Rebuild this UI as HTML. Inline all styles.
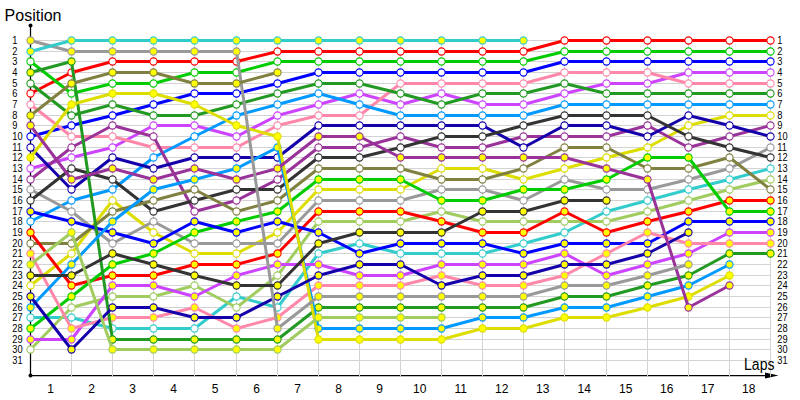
<!DOCTYPE html>
<html><head><meta charset="utf-8"><title>Lap chart</title>
<style>html,body{margin:0;padding:0;background:#fff;width:800px;height:400px;overflow:hidden}svg{display:block}</style>
</head><body>
<svg width="800" height="400" viewBox="0 0 800 400">
<path d="M30.5,25.5V375.5H770" stroke="#000" stroke-width="1.25" fill="none"/>
<circle cx="30.5" cy="25.5" r="2" fill="#000"/>
<circle cx="30.5" cy="375.5" r="2" fill="#000"/>
<path d="M765,372.5L778.5,375.5L765,378.5Z" fill="#000"/>
<path d="M31.5,40.5H770.5M31.5,51.5H770.5M31.5,61.5H770.5M31.5,72.5H770.5M31.5,83.5H770.5M31.5,93.5H770.5M31.5,104.5H770.5M31.5,115.5H770.5M31.5,125.5H770.5M31.5,136.5H770.5M31.5,147.5H770.5M31.5,157.5H770.5M31.5,168.5H770.5M31.5,179.5H770.5M31.5,189.5H770.5M31.5,200.5H770.5M31.5,211.5H770.5M31.5,221.5H770.5M31.5,232.5H770.5M31.5,243.5H770.5M31.5,253.5H770.5M31.5,264.5H770.5M31.5,275.5H770.5M31.5,285.5H770.5M31.5,296.5H770.5M31.5,307.5H770.5M31.5,317.5H770.5M31.5,328.5H770.5M31.5,339.5H770.5M31.5,349.5H770.5M31.5,360.5H770.5M71.5,40.5V376.5M112.5,40.5V376.5M153.5,40.5V376.5M194.5,40.5V376.5M236.5,40.5V376.5M277.5,40.5V376.5M318.5,40.5V376.5M359.5,40.5V376.5M400.5,40.5V376.5M441.5,40.5V376.5M482.5,40.5V376.5M523.5,40.5V376.5M564.5,40.5V376.5M606.5,40.5V376.5M647.5,40.5V376.5M688.5,40.5V376.5M729.5,40.5V376.5M770.5,40.5V376.5" stroke="#d3d3d3" stroke-width="1" fill="none"/>
<polyline points="30.5,93.5 71.5,72.5 112.5,61.5 153.5,61.5 194.5,61.5 236.5,61.5 277.5,51.5 318.5,51.5 359.5,51.5 400.5,51.5 441.5,51.5 482.5,51.5 523.5,51.5 564.5,40.5 606.5,40.5 647.5,40.5 688.5,40.5 729.5,40.5 770.5,40.5" stroke="#ff0000" stroke-width="3" fill="none" stroke-linejoin="round"/>
<circle cx="30.5" cy="93.5" r="3.6" fill="#ffffff" stroke="#ff0000" stroke-width="1.1"/>
<circle cx="71.5" cy="72.5" r="3.6" fill="#ffffff" stroke="#ff0000" stroke-width="1.1"/>
<circle cx="112.5" cy="61.5" r="3.6" fill="#ffffff" stroke="#ff0000" stroke-width="1.1"/>
<circle cx="153.5" cy="61.5" r="3.6" fill="#ffffff" stroke="#ff0000" stroke-width="1.1"/>
<circle cx="194.5" cy="61.5" r="3.6" fill="#ffffff" stroke="#ff0000" stroke-width="1.1"/>
<circle cx="236.5" cy="61.5" r="3.6" fill="#ffffff" stroke="#ff0000" stroke-width="1.1"/>
<circle cx="277.5" cy="51.5" r="3.6" fill="#ffffff" stroke="#ff0000" stroke-width="1.1"/>
<circle cx="318.5" cy="51.5" r="3.6" fill="#ffffff" stroke="#ff0000" stroke-width="1.1"/>
<circle cx="359.5" cy="51.5" r="3.6" fill="#ffffff" stroke="#ff0000" stroke-width="1.1"/>
<circle cx="400.5" cy="51.5" r="3.6" fill="#ffffff" stroke="#ff0000" stroke-width="1.1"/>
<circle cx="441.5" cy="51.5" r="3.6" fill="#ffffff" stroke="#ff0000" stroke-width="1.1"/>
<circle cx="482.5" cy="51.5" r="3.6" fill="#ffffff" stroke="#ff0000" stroke-width="1.1"/>
<circle cx="523.5" cy="51.5" r="3.6" fill="#ffffff" stroke="#ff0000" stroke-width="1.1"/>
<circle cx="564.5" cy="40.5" r="3.6" fill="#ffffff" stroke="#ff0000" stroke-width="1.1"/>
<circle cx="606.5" cy="40.5" r="3.6" fill="#ffffff" stroke="#ff0000" stroke-width="1.1"/>
<circle cx="647.5" cy="40.5" r="3.6" fill="#ffffff" stroke="#ff0000" stroke-width="1.1"/>
<circle cx="688.5" cy="40.5" r="3.6" fill="#ffffff" stroke="#ff0000" stroke-width="1.1"/>
<circle cx="729.5" cy="40.5" r="3.6" fill="#ffffff" stroke="#ff0000" stroke-width="1.1"/>
<circle cx="770.5" cy="40.5" r="3.6" fill="#ffffff" stroke="#ff0000" stroke-width="1.1"/>
<polyline points="30.5,61.5 71.5,93.5 112.5,83.5 153.5,83.5 194.5,72.5 236.5,72.5 277.5,61.5 318.5,61.5 359.5,61.5 400.5,61.5 441.5,61.5 482.5,61.5 523.5,61.5 564.5,51.5 606.5,51.5 647.5,51.5 688.5,51.5 729.5,51.5 770.5,51.5" stroke="#00cc00" stroke-width="3" fill="none" stroke-linejoin="round"/>
<circle cx="30.5" cy="61.5" r="3.6" fill="#ffffff" stroke="#00cc00" stroke-width="1.1"/>
<circle cx="71.5" cy="93.5" r="3.6" fill="#ffffff" stroke="#00cc00" stroke-width="1.1"/>
<circle cx="112.5" cy="83.5" r="3.6" fill="#ffffff" stroke="#00cc00" stroke-width="1.1"/>
<circle cx="153.5" cy="83.5" r="3.6" fill="#ffffff" stroke="#00cc00" stroke-width="1.1"/>
<circle cx="194.5" cy="72.5" r="3.6" fill="#ffffff" stroke="#00cc00" stroke-width="1.1"/>
<circle cx="236.5" cy="72.5" r="3.6" fill="#ffffff" stroke="#00cc00" stroke-width="1.1"/>
<circle cx="277.5" cy="61.5" r="3.6" fill="#ffffff" stroke="#00cc00" stroke-width="1.1"/>
<circle cx="318.5" cy="61.5" r="3.6" fill="#ffffff" stroke="#00cc00" stroke-width="1.1"/>
<circle cx="359.5" cy="61.5" r="3.6" fill="#ffffff" stroke="#00cc00" stroke-width="1.1"/>
<circle cx="400.5" cy="61.5" r="3.6" fill="#ffffff" stroke="#00cc00" stroke-width="1.1"/>
<circle cx="441.5" cy="61.5" r="3.6" fill="#ffffff" stroke="#00cc00" stroke-width="1.1"/>
<circle cx="482.5" cy="61.5" r="3.6" fill="#ffffff" stroke="#00cc00" stroke-width="1.1"/>
<circle cx="523.5" cy="61.5" r="3.6" fill="#ffffff" stroke="#00cc00" stroke-width="1.1"/>
<circle cx="564.5" cy="51.5" r="3.6" fill="#ffffff" stroke="#00cc00" stroke-width="1.1"/>
<circle cx="606.5" cy="51.5" r="3.6" fill="#ffffff" stroke="#00cc00" stroke-width="1.1"/>
<circle cx="647.5" cy="51.5" r="3.6" fill="#ffffff" stroke="#00cc00" stroke-width="1.1"/>
<circle cx="688.5" cy="51.5" r="3.6" fill="#ffffff" stroke="#00cc00" stroke-width="1.1"/>
<circle cx="729.5" cy="51.5" r="3.6" fill="#ffffff" stroke="#00cc00" stroke-width="1.1"/>
<circle cx="770.5" cy="51.5" r="3.6" fill="#ffffff" stroke="#00cc00" stroke-width="1.1"/>
<polyline points="30.5,136.5 71.5,125.5 112.5,115.5 153.5,104.5 194.5,93.5 236.5,93.5 277.5,83.5 318.5,72.5 359.5,72.5 400.5,72.5 441.5,72.5 482.5,72.5 523.5,72.5 564.5,61.5 606.5,61.5 647.5,61.5 688.5,61.5 729.5,61.5 770.5,61.5" stroke="#0000ff" stroke-width="3" fill="none" stroke-linejoin="round"/>
<circle cx="30.5" cy="136.5" r="3.6" fill="#ffffff" stroke="#0000ff" stroke-width="1.1"/>
<circle cx="71.5" cy="125.5" r="3.6" fill="#ffffff" stroke="#0000ff" stroke-width="1.1"/>
<circle cx="112.5" cy="115.5" r="3.6" fill="#ffffff" stroke="#0000ff" stroke-width="1.1"/>
<circle cx="153.5" cy="104.5" r="3.6" fill="#ffffff" stroke="#0000ff" stroke-width="1.1"/>
<circle cx="194.5" cy="93.5" r="3.6" fill="#ffffff" stroke="#0000ff" stroke-width="1.1"/>
<circle cx="236.5" cy="93.5" r="3.6" fill="#ffffff" stroke="#0000ff" stroke-width="1.1"/>
<circle cx="277.5" cy="83.5" r="3.6" fill="#ffffff" stroke="#0000ff" stroke-width="1.1"/>
<circle cx="318.5" cy="72.5" r="3.6" fill="#ffffff" stroke="#0000ff" stroke-width="1.1"/>
<circle cx="359.5" cy="72.5" r="3.6" fill="#ffffff" stroke="#0000ff" stroke-width="1.1"/>
<circle cx="400.5" cy="72.5" r="3.6" fill="#ffffff" stroke="#0000ff" stroke-width="1.1"/>
<circle cx="441.5" cy="72.5" r="3.6" fill="#ffffff" stroke="#0000ff" stroke-width="1.1"/>
<circle cx="482.5" cy="72.5" r="3.6" fill="#ffffff" stroke="#0000ff" stroke-width="1.1"/>
<circle cx="523.5" cy="72.5" r="3.6" fill="#ffffff" stroke="#0000ff" stroke-width="1.1"/>
<circle cx="564.5" cy="61.5" r="3.6" fill="#ffffff" stroke="#0000ff" stroke-width="1.1"/>
<circle cx="606.5" cy="61.5" r="3.6" fill="#ffffff" stroke="#0000ff" stroke-width="1.1"/>
<circle cx="647.5" cy="61.5" r="3.6" fill="#ffffff" stroke="#0000ff" stroke-width="1.1"/>
<circle cx="688.5" cy="61.5" r="3.6" fill="#ffffff" stroke="#0000ff" stroke-width="1.1"/>
<circle cx="729.5" cy="61.5" r="3.6" fill="#ffffff" stroke="#0000ff" stroke-width="1.1"/>
<circle cx="770.5" cy="61.5" r="3.6" fill="#ffffff" stroke="#0000ff" stroke-width="1.1"/>
<polyline points="30.5,168.5 71.5,157.5 112.5,147.5 153.5,125.5 194.5,125.5 236.5,136.5 277.5,115.5 318.5,104.5 359.5,93.5 400.5,104.5 441.5,93.5 482.5,104.5 523.5,104.5 564.5,93.5 606.5,83.5 647.5,83.5 688.5,72.5 729.5,72.5 770.5,72.5" stroke="#cc44ff" stroke-width="3" fill="none" stroke-linejoin="round"/>
<circle cx="30.5" cy="168.5" r="3.6" fill="#ffffff" stroke="#cc44ff" stroke-width="1.1"/>
<circle cx="71.5" cy="157.5" r="3.6" fill="#ffffff" stroke="#cc44ff" stroke-width="1.1"/>
<circle cx="112.5" cy="147.5" r="3.6" fill="#ffffff" stroke="#cc44ff" stroke-width="1.1"/>
<circle cx="153.5" cy="125.5" r="3.6" fill="#ffffff" stroke="#cc44ff" stroke-width="1.1"/>
<circle cx="194.5" cy="125.5" r="3.6" fill="#ffffff" stroke="#cc44ff" stroke-width="1.1"/>
<circle cx="236.5" cy="136.5" r="3.6" fill="#ffffff" stroke="#cc44ff" stroke-width="1.1"/>
<circle cx="277.5" cy="115.5" r="3.6" fill="#ffffff" stroke="#cc44ff" stroke-width="1.1"/>
<circle cx="318.5" cy="104.5" r="3.6" fill="#ffffff" stroke="#cc44ff" stroke-width="1.1"/>
<circle cx="359.5" cy="93.5" r="3.6" fill="#ffffff" stroke="#cc44ff" stroke-width="1.1"/>
<circle cx="400.5" cy="104.5" r="3.6" fill="#ffffff" stroke="#cc44ff" stroke-width="1.1"/>
<circle cx="441.5" cy="93.5" r="3.6" fill="#ffffff" stroke="#cc44ff" stroke-width="1.1"/>
<circle cx="482.5" cy="104.5" r="3.6" fill="#ffffff" stroke="#cc44ff" stroke-width="1.1"/>
<circle cx="523.5" cy="104.5" r="3.6" fill="#ffffff" stroke="#cc44ff" stroke-width="1.1"/>
<circle cx="564.5" cy="93.5" r="3.6" fill="#ffffff" stroke="#cc44ff" stroke-width="1.1"/>
<circle cx="606.5" cy="83.5" r="3.6" fill="#ffffff" stroke="#cc44ff" stroke-width="1.1"/>
<circle cx="647.5" cy="83.5" r="3.6" fill="#ffffff" stroke="#cc44ff" stroke-width="1.1"/>
<circle cx="688.5" cy="72.5" r="3.6" fill="#ffffff" stroke="#cc44ff" stroke-width="1.1"/>
<circle cx="729.5" cy="72.5" r="3.6" fill="#ffffff" stroke="#cc44ff" stroke-width="1.1"/>
<circle cx="770.5" cy="72.5" r="3.6" fill="#ffffff" stroke="#cc44ff" stroke-width="1.1"/>
<polyline points="30.5,104.5 71.5,136.5 112.5,136.5 153.5,147.5 194.5,147.5 236.5,147.5 277.5,125.5 318.5,115.5 359.5,115.5 400.5,83.5 441.5,83.5 482.5,83.5 523.5,83.5 564.5,72.5 606.5,72.5 647.5,72.5 688.5,83.5 729.5,83.5 770.5,83.5" stroke="#ff88aa" stroke-width="3" fill="none" stroke-linejoin="round"/>
<circle cx="30.5" cy="104.5" r="3.6" fill="#ffffff" stroke="#ff88aa" stroke-width="1.1"/>
<circle cx="71.5" cy="136.5" r="3.6" fill="#ffffff" stroke="#ff88aa" stroke-width="1.1"/>
<circle cx="112.5" cy="136.5" r="3.6" fill="#ffffff" stroke="#ff88aa" stroke-width="1.1"/>
<circle cx="153.5" cy="147.5" r="3.6" fill="#ffffff" stroke="#ff88aa" stroke-width="1.1"/>
<circle cx="194.5" cy="147.5" r="3.6" fill="#ffffff" stroke="#ff88aa" stroke-width="1.1"/>
<circle cx="236.5" cy="147.5" r="3.6" fill="#ffffff" stroke="#ff88aa" stroke-width="1.1"/>
<circle cx="277.5" cy="125.5" r="3.6" fill="#ffffff" stroke="#ff88aa" stroke-width="1.1"/>
<circle cx="318.5" cy="115.5" r="3.6" fill="#ffffff" stroke="#ff88aa" stroke-width="1.1"/>
<circle cx="359.5" cy="115.5" r="3.6" fill="#ffffff" stroke="#ff88aa" stroke-width="1.1"/>
<circle cx="400.5" cy="83.5" r="3.6" fill="#ffffff" stroke="#ff88aa" stroke-width="1.1"/>
<circle cx="441.5" cy="83.5" r="3.6" fill="#ffffff" stroke="#ff88aa" stroke-width="1.1"/>
<circle cx="482.5" cy="83.5" r="3.6" fill="#ffffff" stroke="#ff88aa" stroke-width="1.1"/>
<circle cx="523.5" cy="83.5" r="3.6" fill="#ffffff" stroke="#ff88aa" stroke-width="1.1"/>
<circle cx="564.5" cy="72.5" r="3.6" fill="#ffffff" stroke="#ff88aa" stroke-width="1.1"/>
<circle cx="606.5" cy="72.5" r="3.6" fill="#ffffff" stroke="#ff88aa" stroke-width="1.1"/>
<circle cx="647.5" cy="72.5" r="3.6" fill="#ffffff" stroke="#ff88aa" stroke-width="1.1"/>
<circle cx="688.5" cy="83.5" r="3.6" fill="#ffffff" stroke="#ff88aa" stroke-width="1.1"/>
<circle cx="729.5" cy="83.5" r="3.6" fill="#ffffff" stroke="#ff88aa" stroke-width="1.1"/>
<circle cx="770.5" cy="83.5" r="3.6" fill="#ffffff" stroke="#ff88aa" stroke-width="1.1"/>
<polyline points="30.5,83.5 71.5,115.5 112.5,104.5 153.5,115.5 194.5,115.5 236.5,104.5 277.5,93.5 318.5,83.5 359.5,83.5 400.5,93.5 441.5,104.5 482.5,93.5 523.5,93.5 564.5,83.5 606.5,93.5 647.5,93.5 688.5,93.5 729.5,93.5 770.5,93.5" stroke="#229922" stroke-width="3" fill="none" stroke-linejoin="round"/>
<circle cx="30.5" cy="83.5" r="3.6" fill="#ffffff" stroke="#229922" stroke-width="1.1"/>
<circle cx="71.5" cy="115.5" r="3.6" fill="#ffffff" stroke="#229922" stroke-width="1.1"/>
<circle cx="112.5" cy="104.5" r="3.6" fill="#ffffff" stroke="#229922" stroke-width="1.1"/>
<circle cx="153.5" cy="115.5" r="3.6" fill="#ffffff" stroke="#229922" stroke-width="1.1"/>
<circle cx="194.5" cy="115.5" r="3.6" fill="#ffffff" stroke="#229922" stroke-width="1.1"/>
<circle cx="236.5" cy="104.5" r="3.6" fill="#ffffff" stroke="#229922" stroke-width="1.1"/>
<circle cx="277.5" cy="93.5" r="3.6" fill="#ffffff" stroke="#229922" stroke-width="1.1"/>
<circle cx="318.5" cy="83.5" r="3.6" fill="#ffffff" stroke="#229922" stroke-width="1.1"/>
<circle cx="359.5" cy="83.5" r="3.6" fill="#ffffff" stroke="#229922" stroke-width="1.1"/>
<circle cx="400.5" cy="93.5" r="3.6" fill="#ffffff" stroke="#229922" stroke-width="1.1"/>
<circle cx="441.5" cy="104.5" r="3.6" fill="#ffffff" stroke="#229922" stroke-width="1.1"/>
<circle cx="482.5" cy="93.5" r="3.6" fill="#ffffff" stroke="#229922" stroke-width="1.1"/>
<circle cx="523.5" cy="93.5" r="3.6" fill="#ffffff" stroke="#229922" stroke-width="1.1"/>
<circle cx="564.5" cy="83.5" r="3.6" fill="#ffffff" stroke="#229922" stroke-width="1.1"/>
<circle cx="606.5" cy="93.5" r="3.6" fill="#ffffff" stroke="#229922" stroke-width="1.1"/>
<circle cx="647.5" cy="93.5" r="3.6" fill="#ffffff" stroke="#229922" stroke-width="1.1"/>
<circle cx="688.5" cy="93.5" r="3.6" fill="#ffffff" stroke="#229922" stroke-width="1.1"/>
<circle cx="729.5" cy="93.5" r="3.6" fill="#ffffff" stroke="#229922" stroke-width="1.1"/>
<circle cx="770.5" cy="93.5" r="3.6" fill="#ffffff" stroke="#229922" stroke-width="1.1"/>
<polyline points="30.5,221.5 71.5,200.5 112.5,189.5 153.5,157.5 194.5,136.5 236.5,115.5 277.5,104.5 318.5,93.5 359.5,104.5 400.5,115.5 441.5,115.5 482.5,115.5 523.5,115.5 564.5,104.5 606.5,104.5 647.5,104.5 688.5,104.5 729.5,104.5 770.5,104.5" stroke="#0099ff" stroke-width="3" fill="none" stroke-linejoin="round"/>
<circle cx="30.5" cy="221.5" r="3.6" fill="#ffffff" stroke="#0099ff" stroke-width="1.1"/>
<circle cx="71.5" cy="200.5" r="3.6" fill="#ffffff" stroke="#0099ff" stroke-width="1.1"/>
<circle cx="112.5" cy="189.5" r="3.6" fill="#ffffff" stroke="#0099ff" stroke-width="1.1"/>
<circle cx="153.5" cy="157.5" r="3.6" fill="#ffffff" stroke="#0099ff" stroke-width="1.1"/>
<circle cx="194.5" cy="136.5" r="3.6" fill="#ffffff" stroke="#0099ff" stroke-width="1.1"/>
<circle cx="236.5" cy="115.5" r="3.6" fill="#ffffff" stroke="#0099ff" stroke-width="1.1"/>
<circle cx="277.5" cy="104.5" r="3.6" fill="#ffffff" stroke="#0099ff" stroke-width="1.1"/>
<circle cx="318.5" cy="93.5" r="3.6" fill="#ffffff" stroke="#0099ff" stroke-width="1.1"/>
<circle cx="359.5" cy="104.5" r="3.6" fill="#ffffff" stroke="#0099ff" stroke-width="1.1"/>
<circle cx="400.5" cy="115.5" r="3.6" fill="#ffffff" stroke="#0099ff" stroke-width="1.1"/>
<circle cx="441.5" cy="115.5" r="3.6" fill="#ffffff" stroke="#0099ff" stroke-width="1.1"/>
<circle cx="482.5" cy="115.5" r="3.6" fill="#ffffff" stroke="#0099ff" stroke-width="1.1"/>
<circle cx="523.5" cy="115.5" r="3.6" fill="#ffffff" stroke="#0099ff" stroke-width="1.1"/>
<circle cx="564.5" cy="104.5" r="3.6" fill="#ffffff" stroke="#0099ff" stroke-width="1.1"/>
<circle cx="606.5" cy="104.5" r="3.6" fill="#ffffff" stroke="#0099ff" stroke-width="1.1"/>
<circle cx="647.5" cy="104.5" r="3.6" fill="#ffffff" stroke="#0099ff" stroke-width="1.1"/>
<circle cx="688.5" cy="104.5" r="3.6" fill="#ffffff" stroke="#0099ff" stroke-width="1.1"/>
<circle cx="729.5" cy="104.5" r="3.6" fill="#ffffff" stroke="#0099ff" stroke-width="1.1"/>
<circle cx="770.5" cy="104.5" r="3.6" fill="#ffffff" stroke="#0099ff" stroke-width="1.1"/>
<polyline points="30.5,285.5 71.5,253.5 112.5,200.5 153.5,232.5 194.5,253.5 236.5,253.5 277.5,232.5 318.5,189.5 359.5,189.5 400.5,189.5 441.5,168.5 482.5,168.5 523.5,179.5 564.5,168.5 606.5,157.5 647.5,147.5 688.5,125.5 729.5,115.5 770.5,115.5" stroke="#dddd00" stroke-width="3" fill="none" stroke-linejoin="round"/>
<circle cx="30.5" cy="285.5" r="3.6" fill="#ffffff" stroke="#dddd00" stroke-width="1.1"/>
<circle cx="71.5" cy="253.5" r="3.6" fill="#ffffff" stroke="#dddd00" stroke-width="1.1"/>
<circle cx="112.5" cy="200.5" r="3.6" fill="#ffffff" stroke="#dddd00" stroke-width="1.1"/>
<circle cx="153.5" cy="232.5" r="3.6" fill="#ffffff" stroke="#dddd00" stroke-width="1.1"/>
<circle cx="194.5" cy="253.5" r="3.6" fill="#ffffff" stroke="#dddd00" stroke-width="1.1"/>
<circle cx="236.5" cy="253.5" r="3.6" fill="#ffffff" stroke="#dddd00" stroke-width="1.1"/>
<circle cx="277.5" cy="232.5" r="3.6" fill="#ffffff" stroke="#dddd00" stroke-width="1.1"/>
<circle cx="318.5" cy="189.5" r="3.6" fill="#ffffff" stroke="#dddd00" stroke-width="1.1"/>
<circle cx="359.5" cy="189.5" r="3.6" fill="#ffffff" stroke="#dddd00" stroke-width="1.1"/>
<circle cx="400.5" cy="189.5" r="3.6" fill="#ffffff" stroke="#dddd00" stroke-width="1.1"/>
<circle cx="441.5" cy="168.5" r="3.6" fill="#ffffff" stroke="#dddd00" stroke-width="1.1"/>
<circle cx="482.5" cy="168.5" r="3.6" fill="#ffffff" stroke="#dddd00" stroke-width="1.1"/>
<circle cx="523.5" cy="179.5" r="3.6" fill="#ffffff" stroke="#dddd00" stroke-width="1.1"/>
<circle cx="564.5" cy="168.5" r="3.6" fill="#ffffff" stroke="#dddd00" stroke-width="1.1"/>
<circle cx="606.5" cy="157.5" r="3.6" fill="#ffffff" stroke="#dddd00" stroke-width="1.1"/>
<circle cx="647.5" cy="147.5" r="3.6" fill="#ffffff" stroke="#dddd00" stroke-width="1.1"/>
<circle cx="688.5" cy="125.5" r="3.6" fill="#ffffff" stroke="#dddd00" stroke-width="1.1"/>
<circle cx="729.5" cy="115.5" r="3.6" fill="#ffffff" stroke="#dddd00" stroke-width="1.1"/>
<circle cx="770.5" cy="115.5" r="3.6" fill="#ffffff" stroke="#dddd00" stroke-width="1.1"/>
<polyline points="30.5,179.5 71.5,147.5 112.5,125.5 153.5,136.5 194.5,211.5 236.5,200.5 277.5,179.5 318.5,147.5 359.5,147.5 400.5,136.5 441.5,147.5 482.5,147.5 523.5,136.5 564.5,136.5 606.5,136.5 647.5,125.5 688.5,147.5 729.5,136.5 770.5,125.5" stroke="#993399" stroke-width="3" fill="none" stroke-linejoin="round"/>
<circle cx="30.5" cy="179.5" r="3.6" fill="#ffffff" stroke="#993399" stroke-width="1.1"/>
<circle cx="71.5" cy="147.5" r="3.6" fill="#ffffff" stroke="#993399" stroke-width="1.1"/>
<circle cx="112.5" cy="125.5" r="3.6" fill="#ffffff" stroke="#993399" stroke-width="1.1"/>
<circle cx="153.5" cy="136.5" r="3.6" fill="#ffffff" stroke="#993399" stroke-width="1.1"/>
<circle cx="194.5" cy="211.5" r="3.6" fill="#ffffff" stroke="#993399" stroke-width="1.1"/>
<circle cx="236.5" cy="200.5" r="3.6" fill="#ffffff" stroke="#993399" stroke-width="1.1"/>
<circle cx="277.5" cy="179.5" r="3.6" fill="#ffffff" stroke="#993399" stroke-width="1.1"/>
<circle cx="318.5" cy="147.5" r="3.6" fill="#ffffff" stroke="#993399" stroke-width="1.1"/>
<circle cx="359.5" cy="147.5" r="3.6" fill="#ffffff" stroke="#993399" stroke-width="1.1"/>
<circle cx="400.5" cy="136.5" r="3.6" fill="#ffffff" stroke="#993399" stroke-width="1.1"/>
<circle cx="441.5" cy="147.5" r="3.6" fill="#ffffff" stroke="#993399" stroke-width="1.1"/>
<circle cx="482.5" cy="147.5" r="3.6" fill="#ffffff" stroke="#993399" stroke-width="1.1"/>
<circle cx="523.5" cy="136.5" r="3.6" fill="#ffffff" stroke="#993399" stroke-width="1.1"/>
<circle cx="564.5" cy="136.5" r="3.6" fill="#ffffff" stroke="#993399" stroke-width="1.1"/>
<circle cx="606.5" cy="136.5" r="3.6" fill="#ffffff" stroke="#993399" stroke-width="1.1"/>
<circle cx="647.5" cy="125.5" r="3.6" fill="#ffffff" stroke="#993399" stroke-width="1.1"/>
<circle cx="688.5" cy="147.5" r="3.6" fill="#ffffff" stroke="#993399" stroke-width="1.1"/>
<circle cx="729.5" cy="136.5" r="3.6" fill="#ffffff" stroke="#993399" stroke-width="1.1"/>
<circle cx="770.5" cy="125.5" r="3.6" fill="#ffffff" stroke="#993399" stroke-width="1.1"/>
<polyline points="30.5,147.5 71.5,189.5 112.5,157.5 153.5,168.5 194.5,157.5 236.5,157.5 277.5,157.5 318.5,125.5 359.5,125.5 400.5,125.5 441.5,125.5 482.5,125.5 523.5,147.5 564.5,125.5 606.5,125.5 647.5,136.5 688.5,115.5 729.5,125.5 770.5,136.5" stroke="#1400aa" stroke-width="3" fill="none" stroke-linejoin="round"/>
<circle cx="30.5" cy="147.5" r="3.6" fill="#ffffff" stroke="#1400aa" stroke-width="1.1"/>
<circle cx="71.5" cy="189.5" r="3.6" fill="#ffffff" stroke="#1400aa" stroke-width="1.1"/>
<circle cx="112.5" cy="157.5" r="3.6" fill="#ffffff" stroke="#1400aa" stroke-width="1.1"/>
<circle cx="153.5" cy="168.5" r="3.6" fill="#ffffff" stroke="#1400aa" stroke-width="1.1"/>
<circle cx="194.5" cy="157.5" r="3.6" fill="#ffffff" stroke="#1400aa" stroke-width="1.1"/>
<circle cx="236.5" cy="157.5" r="3.6" fill="#ffffff" stroke="#1400aa" stroke-width="1.1"/>
<circle cx="277.5" cy="157.5" r="3.6" fill="#ffffff" stroke="#1400aa" stroke-width="1.1"/>
<circle cx="318.5" cy="125.5" r="3.6" fill="#ffffff" stroke="#1400aa" stroke-width="1.1"/>
<circle cx="359.5" cy="125.5" r="3.6" fill="#ffffff" stroke="#1400aa" stroke-width="1.1"/>
<circle cx="400.5" cy="125.5" r="3.6" fill="#ffffff" stroke="#1400aa" stroke-width="1.1"/>
<circle cx="441.5" cy="125.5" r="3.6" fill="#ffffff" stroke="#1400aa" stroke-width="1.1"/>
<circle cx="482.5" cy="125.5" r="3.6" fill="#ffffff" stroke="#1400aa" stroke-width="1.1"/>
<circle cx="523.5" cy="147.5" r="3.6" fill="#ffffff" stroke="#1400aa" stroke-width="1.1"/>
<circle cx="564.5" cy="125.5" r="3.6" fill="#ffffff" stroke="#1400aa" stroke-width="1.1"/>
<circle cx="606.5" cy="125.5" r="3.6" fill="#ffffff" stroke="#1400aa" stroke-width="1.1"/>
<circle cx="647.5" cy="136.5" r="3.6" fill="#ffffff" stroke="#1400aa" stroke-width="1.1"/>
<circle cx="688.5" cy="115.5" r="3.6" fill="#ffffff" stroke="#1400aa" stroke-width="1.1"/>
<circle cx="729.5" cy="125.5" r="3.6" fill="#ffffff" stroke="#1400aa" stroke-width="1.1"/>
<circle cx="770.5" cy="136.5" r="3.6" fill="#ffffff" stroke="#1400aa" stroke-width="1.1"/>
<polyline points="30.5,189.5 71.5,211.5 112.5,243.5 153.5,221.5 194.5,243.5 236.5,243.5 277.5,243.5 318.5,200.5 359.5,200.5 400.5,200.5 441.5,189.5 482.5,189.5 523.5,200.5 564.5,179.5 606.5,189.5 647.5,189.5 688.5,179.5 729.5,168.5 770.5,147.5" stroke="#999999" stroke-width="3" fill="none" stroke-linejoin="round"/>
<circle cx="30.5" cy="189.5" r="3.6" fill="#ffffff" stroke="#999999" stroke-width="1.1"/>
<circle cx="71.5" cy="211.5" r="3.6" fill="#ffffff" stroke="#999999" stroke-width="1.1"/>
<circle cx="112.5" cy="243.5" r="3.6" fill="#ffffff" stroke="#999999" stroke-width="1.1"/>
<circle cx="153.5" cy="221.5" r="3.6" fill="#ffffff" stroke="#999999" stroke-width="1.1"/>
<circle cx="194.5" cy="243.5" r="3.6" fill="#ffffff" stroke="#999999" stroke-width="1.1"/>
<circle cx="236.5" cy="243.5" r="3.6" fill="#ffffff" stroke="#999999" stroke-width="1.1"/>
<circle cx="277.5" cy="243.5" r="3.6" fill="#ffffff" stroke="#999999" stroke-width="1.1"/>
<circle cx="318.5" cy="200.5" r="3.6" fill="#ffffff" stroke="#999999" stroke-width="1.1"/>
<circle cx="359.5" cy="200.5" r="3.6" fill="#ffffff" stroke="#999999" stroke-width="1.1"/>
<circle cx="400.5" cy="200.5" r="3.6" fill="#ffffff" stroke="#999999" stroke-width="1.1"/>
<circle cx="441.5" cy="189.5" r="3.6" fill="#ffffff" stroke="#999999" stroke-width="1.1"/>
<circle cx="482.5" cy="189.5" r="3.6" fill="#ffffff" stroke="#999999" stroke-width="1.1"/>
<circle cx="523.5" cy="200.5" r="3.6" fill="#ffffff" stroke="#999999" stroke-width="1.1"/>
<circle cx="564.5" cy="179.5" r="3.6" fill="#ffffff" stroke="#999999" stroke-width="1.1"/>
<circle cx="606.5" cy="189.5" r="3.6" fill="#ffffff" stroke="#999999" stroke-width="1.1"/>
<circle cx="647.5" cy="189.5" r="3.6" fill="#ffffff" stroke="#999999" stroke-width="1.1"/>
<circle cx="688.5" cy="179.5" r="3.6" fill="#ffffff" stroke="#999999" stroke-width="1.1"/>
<circle cx="729.5" cy="168.5" r="3.6" fill="#ffffff" stroke="#999999" stroke-width="1.1"/>
<circle cx="770.5" cy="147.5" r="3.6" fill="#ffffff" stroke="#999999" stroke-width="1.1"/>
<polyline points="30.5,200.5 71.5,168.5 112.5,179.5 153.5,211.5 194.5,200.5 236.5,189.5 277.5,189.5 318.5,157.5 359.5,157.5 400.5,147.5 441.5,136.5 482.5,136.5 523.5,125.5 564.5,115.5 606.5,115.5 647.5,115.5 688.5,136.5 729.5,147.5 770.5,157.5" stroke="#333333" stroke-width="3" fill="none" stroke-linejoin="round"/>
<circle cx="30.5" cy="200.5" r="3.6" fill="#ffffff" stroke="#333333" stroke-width="1.1"/>
<circle cx="71.5" cy="168.5" r="3.6" fill="#ffffff" stroke="#333333" stroke-width="1.1"/>
<circle cx="112.5" cy="179.5" r="3.6" fill="#ffffff" stroke="#333333" stroke-width="1.1"/>
<circle cx="153.5" cy="211.5" r="3.6" fill="#ffffff" stroke="#333333" stroke-width="1.1"/>
<circle cx="194.5" cy="200.5" r="3.6" fill="#ffffff" stroke="#333333" stroke-width="1.1"/>
<circle cx="236.5" cy="189.5" r="3.6" fill="#ffffff" stroke="#333333" stroke-width="1.1"/>
<circle cx="277.5" cy="189.5" r="3.6" fill="#ffffff" stroke="#333333" stroke-width="1.1"/>
<circle cx="318.5" cy="157.5" r="3.6" fill="#ffffff" stroke="#333333" stroke-width="1.1"/>
<circle cx="359.5" cy="157.5" r="3.6" fill="#ffffff" stroke="#333333" stroke-width="1.1"/>
<circle cx="400.5" cy="147.5" r="3.6" fill="#ffffff" stroke="#333333" stroke-width="1.1"/>
<circle cx="441.5" cy="136.5" r="3.6" fill="#ffffff" stroke="#333333" stroke-width="1.1"/>
<circle cx="482.5" cy="136.5" r="3.6" fill="#ffffff" stroke="#333333" stroke-width="1.1"/>
<circle cx="523.5" cy="125.5" r="3.6" fill="#ffffff" stroke="#333333" stroke-width="1.1"/>
<circle cx="564.5" cy="115.5" r="3.6" fill="#ffffff" stroke="#333333" stroke-width="1.1"/>
<circle cx="606.5" cy="115.5" r="3.6" fill="#ffffff" stroke="#333333" stroke-width="1.1"/>
<circle cx="647.5" cy="115.5" r="3.6" fill="#ffffff" stroke="#333333" stroke-width="1.1"/>
<circle cx="688.5" cy="136.5" r="3.6" fill="#ffffff" stroke="#333333" stroke-width="1.1"/>
<circle cx="729.5" cy="147.5" r="3.6" fill="#ffffff" stroke="#333333" stroke-width="1.1"/>
<circle cx="770.5" cy="157.5" r="3.6" fill="#ffffff" stroke="#333333" stroke-width="1.1"/>
<polyline points="30.5,317.5 71.5,317.5 112.5,328.5 153.5,328.5 194.5,328.5 236.5,296.5 277.5,307.5 318.5,253.5 359.5,243.5 400.5,253.5 441.5,253.5 482.5,253.5 523.5,243.5 564.5,232.5 606.5,211.5 647.5,200.5 688.5,189.5 729.5,179.5 770.5,168.5" stroke="#33cccc" stroke-width="3" fill="none" stroke-linejoin="round"/>
<circle cx="30.5" cy="317.5" r="3.6" fill="#ffffff" stroke="#33cccc" stroke-width="1.1"/>
<circle cx="71.5" cy="317.5" r="3.6" fill="#ffffff" stroke="#33cccc" stroke-width="1.1"/>
<circle cx="112.5" cy="328.5" r="3.6" fill="#ffffff" stroke="#33cccc" stroke-width="1.1"/>
<circle cx="153.5" cy="328.5" r="3.6" fill="#ffffff" stroke="#33cccc" stroke-width="1.1"/>
<circle cx="194.5" cy="328.5" r="3.6" fill="#ffffff" stroke="#33cccc" stroke-width="1.1"/>
<circle cx="236.5" cy="296.5" r="3.6" fill="#ffffff" stroke="#33cccc" stroke-width="1.1"/>
<circle cx="277.5" cy="307.5" r="3.6" fill="#ffffff" stroke="#33cccc" stroke-width="1.1"/>
<circle cx="318.5" cy="253.5" r="3.6" fill="#ffffff" stroke="#33cccc" stroke-width="1.1"/>
<circle cx="359.5" cy="243.5" r="3.6" fill="#ffffff" stroke="#33cccc" stroke-width="1.1"/>
<circle cx="400.5" cy="253.5" r="3.6" fill="#ffffff" stroke="#33cccc" stroke-width="1.1"/>
<circle cx="441.5" cy="253.5" r="3.6" fill="#ffffff" stroke="#33cccc" stroke-width="1.1"/>
<circle cx="482.5" cy="253.5" r="3.6" fill="#ffffff" stroke="#33cccc" stroke-width="1.1"/>
<circle cx="523.5" cy="243.5" r="3.6" fill="#ffffff" stroke="#33cccc" stroke-width="1.1"/>
<circle cx="564.5" cy="232.5" r="3.6" fill="#ffffff" stroke="#33cccc" stroke-width="1.1"/>
<circle cx="606.5" cy="211.5" r="3.6" fill="#ffffff" stroke="#33cccc" stroke-width="1.1"/>
<circle cx="647.5" cy="200.5" r="3.6" fill="#ffffff" stroke="#33cccc" stroke-width="1.1"/>
<circle cx="688.5" cy="189.5" r="3.6" fill="#ffffff" stroke="#33cccc" stroke-width="1.1"/>
<circle cx="729.5" cy="179.5" r="3.6" fill="#ffffff" stroke="#33cccc" stroke-width="1.1"/>
<circle cx="770.5" cy="168.5" r="3.6" fill="#ffffff" stroke="#33cccc" stroke-width="1.1"/>
<polyline points="30.5,349.5 71.5,307.5 112.5,296.5 153.5,296.5 194.5,285.5 236.5,307.5 277.5,275.5 318.5,221.5 359.5,221.5 400.5,221.5 441.5,211.5 482.5,221.5 523.5,221.5 564.5,221.5 606.5,221.5 647.5,211.5 688.5,200.5 729.5,189.5 770.5,179.5" stroke="#a0cc60" stroke-width="3" fill="none" stroke-linejoin="round"/>
<circle cx="30.5" cy="349.5" r="3.6" fill="#ffffff" stroke="#a0cc60" stroke-width="1.1"/>
<circle cx="71.5" cy="307.5" r="3.6" fill="#ffffff" stroke="#a0cc60" stroke-width="1.1"/>
<circle cx="112.5" cy="296.5" r="3.6" fill="#ffffff" stroke="#a0cc60" stroke-width="1.1"/>
<circle cx="153.5" cy="296.5" r="3.6" fill="#ffffff" stroke="#a0cc60" stroke-width="1.1"/>
<circle cx="194.5" cy="285.5" r="3.6" fill="#ffffff" stroke="#a0cc60" stroke-width="1.1"/>
<circle cx="236.5" cy="307.5" r="3.6" fill="#ffffff" stroke="#a0cc60" stroke-width="1.1"/>
<circle cx="277.5" cy="275.5" r="3.6" fill="#ffffff" stroke="#a0cc60" stroke-width="1.1"/>
<circle cx="318.5" cy="221.5" r="3.6" fill="#ffffff" stroke="#a0cc60" stroke-width="1.1"/>
<circle cx="359.5" cy="221.5" r="3.6" fill="#ffffff" stroke="#a0cc60" stroke-width="1.1"/>
<circle cx="400.5" cy="221.5" r="3.6" fill="#ffffff" stroke="#a0cc60" stroke-width="1.1"/>
<circle cx="441.5" cy="211.5" r="3.6" fill="#ffffff" stroke="#a0cc60" stroke-width="1.1"/>
<circle cx="482.5" cy="221.5" r="3.6" fill="#ffffff" stroke="#a0cc60" stroke-width="1.1"/>
<circle cx="523.5" cy="221.5" r="3.6" fill="#ffffff" stroke="#a0cc60" stroke-width="1.1"/>
<circle cx="564.5" cy="221.5" r="3.6" fill="#ffffff" stroke="#a0cc60" stroke-width="1.1"/>
<circle cx="606.5" cy="221.5" r="3.6" fill="#ffffff" stroke="#a0cc60" stroke-width="1.1"/>
<circle cx="647.5" cy="211.5" r="3.6" fill="#ffffff" stroke="#a0cc60" stroke-width="1.1"/>
<circle cx="688.5" cy="200.5" r="3.6" fill="#ffffff" stroke="#a0cc60" stroke-width="1.1"/>
<circle cx="729.5" cy="189.5" r="3.6" fill="#ffffff" stroke="#a0cc60" stroke-width="1.1"/>
<circle cx="770.5" cy="179.5" r="3.6" fill="#ffffff" stroke="#a0cc60" stroke-width="1.1"/>
<polyline points="30.5,243.5 71.5,243.5 112.5,211.5 153.5,200.5 194.5,189.5 236.5,211.5 277.5,200.5 318.5,168.5 359.5,168.5 400.5,168.5 441.5,179.5 482.5,179.5 523.5,168.5 564.5,147.5 606.5,147.5 647.5,168.5 688.5,168.5 729.5,157.5 770.5,189.5" stroke="#808040" stroke-width="3" fill="none" stroke-linejoin="round"/>
<circle cx="30.5" cy="243.5" r="3.6" fill="#ffffff" stroke="#808040" stroke-width="1.1"/>
<circle cx="71.5" cy="243.5" r="3.6" fill="#ffffff" stroke="#808040" stroke-width="1.1"/>
<circle cx="112.5" cy="211.5" r="3.6" fill="#ffffff" stroke="#808040" stroke-width="1.1"/>
<circle cx="153.5" cy="200.5" r="3.6" fill="#ffffff" stroke="#808040" stroke-width="1.1"/>
<circle cx="194.5" cy="189.5" r="3.6" fill="#ffffff" stroke="#808040" stroke-width="1.1"/>
<circle cx="236.5" cy="211.5" r="3.6" fill="#ffffff" stroke="#808040" stroke-width="1.1"/>
<circle cx="277.5" cy="200.5" r="3.6" fill="#ffffff" stroke="#808040" stroke-width="1.1"/>
<circle cx="318.5" cy="168.5" r="3.6" fill="#ffffff" stroke="#808040" stroke-width="1.1"/>
<circle cx="359.5" cy="168.5" r="3.6" fill="#ffffff" stroke="#808040" stroke-width="1.1"/>
<circle cx="400.5" cy="168.5" r="3.6" fill="#ffffff" stroke="#808040" stroke-width="1.1"/>
<circle cx="441.5" cy="179.5" r="3.6" fill="#ffffff" stroke="#808040" stroke-width="1.1"/>
<circle cx="482.5" cy="179.5" r="3.6" fill="#ffffff" stroke="#808040" stroke-width="1.1"/>
<circle cx="523.5" cy="168.5" r="3.6" fill="#ffffff" stroke="#808040" stroke-width="1.1"/>
<circle cx="564.5" cy="147.5" r="3.6" fill="#ffffff" stroke="#808040" stroke-width="1.1"/>
<circle cx="606.5" cy="147.5" r="3.6" fill="#ffffff" stroke="#808040" stroke-width="1.1"/>
<circle cx="647.5" cy="168.5" r="3.6" fill="#ffffff" stroke="#808040" stroke-width="1.1"/>
<circle cx="688.5" cy="168.5" r="3.6" fill="#ffffff" stroke="#808040" stroke-width="1.1"/>
<circle cx="729.5" cy="157.5" r="3.6" fill="#ffffff" stroke="#808040" stroke-width="1.1"/>
<circle cx="770.5" cy="189.5" r="3.6" fill="#ffffff" stroke="#808040" stroke-width="1.1"/>
<polyline points="30.5,232.5 71.5,285.5 112.5,275.5 153.5,275.5 194.5,264.5 236.5,264.5 277.5,253.5 318.5,211.5 359.5,211.5 400.5,211.5 441.5,221.5 482.5,232.5 523.5,232.5 564.5,211.5 606.5,232.5 647.5,221.5 688.5,211.5 729.5,200.5 770.5,200.5" stroke="#ff0000" stroke-width="3" fill="none" stroke-linejoin="round"/>
<circle cx="30.5" cy="232.5" r="3.6" fill="#ffff00" stroke="#ff0000" stroke-width="1.1"/>
<circle cx="71.5" cy="285.5" r="3.6" fill="#ffff00" stroke="#ff0000" stroke-width="1.1"/>
<circle cx="112.5" cy="275.5" r="3.6" fill="#ffff00" stroke="#ff0000" stroke-width="1.1"/>
<circle cx="153.5" cy="275.5" r="3.6" fill="#ffff00" stroke="#ff0000" stroke-width="1.1"/>
<circle cx="194.5" cy="264.5" r="3.6" fill="#ffff00" stroke="#ff0000" stroke-width="1.1"/>
<circle cx="236.5" cy="264.5" r="3.6" fill="#ffff00" stroke="#ff0000" stroke-width="1.1"/>
<circle cx="277.5" cy="253.5" r="3.6" fill="#ffff00" stroke="#ff0000" stroke-width="1.1"/>
<circle cx="318.5" cy="211.5" r="3.6" fill="#ffff00" stroke="#ff0000" stroke-width="1.1"/>
<circle cx="359.5" cy="211.5" r="3.6" fill="#ffff00" stroke="#ff0000" stroke-width="1.1"/>
<circle cx="400.5" cy="211.5" r="3.6" fill="#ffff00" stroke="#ff0000" stroke-width="1.1"/>
<circle cx="441.5" cy="221.5" r="3.6" fill="#ffff00" stroke="#ff0000" stroke-width="1.1"/>
<circle cx="482.5" cy="232.5" r="3.6" fill="#ffff00" stroke="#ff0000" stroke-width="1.1"/>
<circle cx="523.5" cy="232.5" r="3.6" fill="#ffff00" stroke="#ff0000" stroke-width="1.1"/>
<circle cx="564.5" cy="211.5" r="3.6" fill="#ffff00" stroke="#ff0000" stroke-width="1.1"/>
<circle cx="606.5" cy="232.5" r="3.6" fill="#ffff00" stroke="#ff0000" stroke-width="1.1"/>
<circle cx="647.5" cy="221.5" r="3.6" fill="#ffff00" stroke="#ff0000" stroke-width="1.1"/>
<circle cx="688.5" cy="211.5" r="3.6" fill="#ffff00" stroke="#ff0000" stroke-width="1.1"/>
<circle cx="729.5" cy="200.5" r="3.6" fill="#ffff00" stroke="#ff0000" stroke-width="1.1"/>
<circle cx="770.5" cy="200.5" r="3.6" fill="#ffff00" stroke="#ff0000" stroke-width="1.1"/>
<polyline points="30.5,328.5 71.5,296.5 112.5,264.5 153.5,253.5 194.5,232.5 236.5,221.5 277.5,211.5 318.5,179.5 359.5,179.5 400.5,179.5 441.5,200.5 482.5,200.5 523.5,189.5 564.5,189.5 606.5,179.5 647.5,157.5 688.5,157.5 729.5,211.5 770.5,211.5" stroke="#00cc00" stroke-width="3" fill="none" stroke-linejoin="round"/>
<circle cx="30.5" cy="328.5" r="3.6" fill="#ffff00" stroke="#00cc00" stroke-width="1.1"/>
<circle cx="71.5" cy="296.5" r="3.6" fill="#ffff00" stroke="#00cc00" stroke-width="1.1"/>
<circle cx="112.5" cy="264.5" r="3.6" fill="#ffff00" stroke="#00cc00" stroke-width="1.1"/>
<circle cx="153.5" cy="253.5" r="3.6" fill="#ffff00" stroke="#00cc00" stroke-width="1.1"/>
<circle cx="194.5" cy="232.5" r="3.6" fill="#ffff00" stroke="#00cc00" stroke-width="1.1"/>
<circle cx="236.5" cy="221.5" r="3.6" fill="#ffff00" stroke="#00cc00" stroke-width="1.1"/>
<circle cx="277.5" cy="211.5" r="3.6" fill="#ffff00" stroke="#00cc00" stroke-width="1.1"/>
<circle cx="318.5" cy="179.5" r="3.6" fill="#ffff00" stroke="#00cc00" stroke-width="1.1"/>
<circle cx="359.5" cy="179.5" r="3.6" fill="#ffff00" stroke="#00cc00" stroke-width="1.1"/>
<circle cx="400.5" cy="179.5" r="3.6" fill="#ffff00" stroke="#00cc00" stroke-width="1.1"/>
<circle cx="441.5" cy="200.5" r="3.6" fill="#ffff00" stroke="#00cc00" stroke-width="1.1"/>
<circle cx="482.5" cy="200.5" r="3.6" fill="#ffff00" stroke="#00cc00" stroke-width="1.1"/>
<circle cx="523.5" cy="189.5" r="3.6" fill="#ffff00" stroke="#00cc00" stroke-width="1.1"/>
<circle cx="564.5" cy="189.5" r="3.6" fill="#ffff00" stroke="#00cc00" stroke-width="1.1"/>
<circle cx="606.5" cy="179.5" r="3.6" fill="#ffff00" stroke="#00cc00" stroke-width="1.1"/>
<circle cx="647.5" cy="157.5" r="3.6" fill="#ffff00" stroke="#00cc00" stroke-width="1.1"/>
<circle cx="688.5" cy="157.5" r="3.6" fill="#ffff00" stroke="#00cc00" stroke-width="1.1"/>
<circle cx="729.5" cy="211.5" r="3.6" fill="#ffff00" stroke="#00cc00" stroke-width="1.1"/>
<circle cx="770.5" cy="211.5" r="3.6" fill="#ffff00" stroke="#00cc00" stroke-width="1.1"/>
<polyline points="30.5,211.5 71.5,221.5 112.5,232.5 153.5,243.5 194.5,221.5 236.5,232.5 277.5,221.5 318.5,232.5 359.5,253.5 400.5,243.5 441.5,243.5 482.5,243.5 523.5,253.5 564.5,243.5 606.5,243.5 647.5,243.5 688.5,221.5 729.5,221.5 770.5,221.5" stroke="#0000ff" stroke-width="3" fill="none" stroke-linejoin="round"/>
<circle cx="30.5" cy="211.5" r="3.6" fill="#ffff00" stroke="#0000ff" stroke-width="1.1"/>
<circle cx="71.5" cy="221.5" r="3.6" fill="#ffff00" stroke="#0000ff" stroke-width="1.1"/>
<circle cx="112.5" cy="232.5" r="3.6" fill="#ffff00" stroke="#0000ff" stroke-width="1.1"/>
<circle cx="153.5" cy="243.5" r="3.6" fill="#ffff00" stroke="#0000ff" stroke-width="1.1"/>
<circle cx="194.5" cy="221.5" r="3.6" fill="#ffff00" stroke="#0000ff" stroke-width="1.1"/>
<circle cx="236.5" cy="232.5" r="3.6" fill="#ffff00" stroke="#0000ff" stroke-width="1.1"/>
<circle cx="277.5" cy="221.5" r="3.6" fill="#ffff00" stroke="#0000ff" stroke-width="1.1"/>
<circle cx="318.5" cy="232.5" r="3.6" fill="#ffff00" stroke="#0000ff" stroke-width="1.1"/>
<circle cx="359.5" cy="253.5" r="3.6" fill="#ffff00" stroke="#0000ff" stroke-width="1.1"/>
<circle cx="400.5" cy="243.5" r="3.6" fill="#ffff00" stroke="#0000ff" stroke-width="1.1"/>
<circle cx="441.5" cy="243.5" r="3.6" fill="#ffff00" stroke="#0000ff" stroke-width="1.1"/>
<circle cx="482.5" cy="243.5" r="3.6" fill="#ffff00" stroke="#0000ff" stroke-width="1.1"/>
<circle cx="523.5" cy="253.5" r="3.6" fill="#ffff00" stroke="#0000ff" stroke-width="1.1"/>
<circle cx="564.5" cy="243.5" r="3.6" fill="#ffff00" stroke="#0000ff" stroke-width="1.1"/>
<circle cx="606.5" cy="243.5" r="3.6" fill="#ffff00" stroke="#0000ff" stroke-width="1.1"/>
<circle cx="647.5" cy="243.5" r="3.6" fill="#ffff00" stroke="#0000ff" stroke-width="1.1"/>
<circle cx="688.5" cy="221.5" r="3.6" fill="#ffff00" stroke="#0000ff" stroke-width="1.1"/>
<circle cx="729.5" cy="221.5" r="3.6" fill="#ffff00" stroke="#0000ff" stroke-width="1.1"/>
<circle cx="770.5" cy="221.5" r="3.6" fill="#ffff00" stroke="#0000ff" stroke-width="1.1"/>
<polyline points="30.5,339.5 71.5,339.5 112.5,285.5 153.5,285.5 194.5,296.5 236.5,275.5 277.5,264.5 318.5,264.5 359.5,275.5 400.5,275.5 441.5,264.5 482.5,264.5 523.5,264.5 564.5,253.5 606.5,275.5 647.5,264.5 688.5,253.5 729.5,232.5 770.5,232.5" stroke="#cc44ff" stroke-width="3" fill="none" stroke-linejoin="round"/>
<circle cx="30.5" cy="339.5" r="3.6" fill="#ffff00" stroke="#cc44ff" stroke-width="1.1"/>
<circle cx="71.5" cy="339.5" r="3.6" fill="#ffff00" stroke="#cc44ff" stroke-width="1.1"/>
<circle cx="112.5" cy="285.5" r="3.6" fill="#ffff00" stroke="#cc44ff" stroke-width="1.1"/>
<circle cx="153.5" cy="285.5" r="3.6" fill="#ffff00" stroke="#cc44ff" stroke-width="1.1"/>
<circle cx="194.5" cy="296.5" r="3.6" fill="#ffff00" stroke="#cc44ff" stroke-width="1.1"/>
<circle cx="236.5" cy="275.5" r="3.6" fill="#ffff00" stroke="#cc44ff" stroke-width="1.1"/>
<circle cx="277.5" cy="264.5" r="3.6" fill="#ffff00" stroke="#cc44ff" stroke-width="1.1"/>
<circle cx="318.5" cy="264.5" r="3.6" fill="#ffff00" stroke="#cc44ff" stroke-width="1.1"/>
<circle cx="359.5" cy="275.5" r="3.6" fill="#ffff00" stroke="#cc44ff" stroke-width="1.1"/>
<circle cx="400.5" cy="275.5" r="3.6" fill="#ffff00" stroke="#cc44ff" stroke-width="1.1"/>
<circle cx="441.5" cy="264.5" r="3.6" fill="#ffff00" stroke="#cc44ff" stroke-width="1.1"/>
<circle cx="482.5" cy="264.5" r="3.6" fill="#ffff00" stroke="#cc44ff" stroke-width="1.1"/>
<circle cx="523.5" cy="264.5" r="3.6" fill="#ffff00" stroke="#cc44ff" stroke-width="1.1"/>
<circle cx="564.5" cy="253.5" r="3.6" fill="#ffff00" stroke="#cc44ff" stroke-width="1.1"/>
<circle cx="606.5" cy="275.5" r="3.6" fill="#ffff00" stroke="#cc44ff" stroke-width="1.1"/>
<circle cx="647.5" cy="264.5" r="3.6" fill="#ffff00" stroke="#cc44ff" stroke-width="1.1"/>
<circle cx="688.5" cy="253.5" r="3.6" fill="#ffff00" stroke="#cc44ff" stroke-width="1.1"/>
<circle cx="729.5" cy="232.5" r="3.6" fill="#ffff00" stroke="#cc44ff" stroke-width="1.1"/>
<circle cx="770.5" cy="232.5" r="3.6" fill="#ffff00" stroke="#cc44ff" stroke-width="1.1"/>
<polyline points="30.5,253.5 71.5,328.5 112.5,317.5 153.5,317.5 194.5,307.5 236.5,328.5 277.5,317.5 318.5,285.5 359.5,285.5 400.5,285.5 441.5,275.5 482.5,285.5 523.5,285.5 564.5,275.5 606.5,253.5 647.5,232.5 688.5,243.5 729.5,243.5 770.5,243.5" stroke="#ff88aa" stroke-width="3" fill="none" stroke-linejoin="round"/>
<circle cx="30.5" cy="253.5" r="3.6" fill="#ffff00" stroke="#ff88aa" stroke-width="1.1"/>
<circle cx="71.5" cy="328.5" r="3.6" fill="#ffff00" stroke="#ff88aa" stroke-width="1.1"/>
<circle cx="112.5" cy="317.5" r="3.6" fill="#ffff00" stroke="#ff88aa" stroke-width="1.1"/>
<circle cx="153.5" cy="317.5" r="3.6" fill="#ffff00" stroke="#ff88aa" stroke-width="1.1"/>
<circle cx="194.5" cy="307.5" r="3.6" fill="#ffff00" stroke="#ff88aa" stroke-width="1.1"/>
<circle cx="236.5" cy="328.5" r="3.6" fill="#ffff00" stroke="#ff88aa" stroke-width="1.1"/>
<circle cx="277.5" cy="317.5" r="3.6" fill="#ffff00" stroke="#ff88aa" stroke-width="1.1"/>
<circle cx="318.5" cy="285.5" r="3.6" fill="#ffff00" stroke="#ff88aa" stroke-width="1.1"/>
<circle cx="359.5" cy="285.5" r="3.6" fill="#ffff00" stroke="#ff88aa" stroke-width="1.1"/>
<circle cx="400.5" cy="285.5" r="3.6" fill="#ffff00" stroke="#ff88aa" stroke-width="1.1"/>
<circle cx="441.5" cy="275.5" r="3.6" fill="#ffff00" stroke="#ff88aa" stroke-width="1.1"/>
<circle cx="482.5" cy="285.5" r="3.6" fill="#ffff00" stroke="#ff88aa" stroke-width="1.1"/>
<circle cx="523.5" cy="285.5" r="3.6" fill="#ffff00" stroke="#ff88aa" stroke-width="1.1"/>
<circle cx="564.5" cy="275.5" r="3.6" fill="#ffff00" stroke="#ff88aa" stroke-width="1.1"/>
<circle cx="606.5" cy="253.5" r="3.6" fill="#ffff00" stroke="#ff88aa" stroke-width="1.1"/>
<circle cx="647.5" cy="232.5" r="3.6" fill="#ffff00" stroke="#ff88aa" stroke-width="1.1"/>
<circle cx="688.5" cy="243.5" r="3.6" fill="#ffff00" stroke="#ff88aa" stroke-width="1.1"/>
<circle cx="729.5" cy="243.5" r="3.6" fill="#ffff00" stroke="#ff88aa" stroke-width="1.1"/>
<circle cx="770.5" cy="243.5" r="3.6" fill="#ffff00" stroke="#ff88aa" stroke-width="1.1"/>
<polyline points="30.5,72.5 71.5,61.5 112.5,339.5 153.5,339.5 194.5,339.5 236.5,339.5 277.5,339.5 318.5,307.5 359.5,307.5 400.5,307.5 441.5,307.5 482.5,307.5 523.5,307.5 564.5,296.5 606.5,296.5 647.5,285.5 688.5,275.5 729.5,253.5 770.5,253.5" stroke="#229922" stroke-width="3" fill="none" stroke-linejoin="round"/>
<circle cx="30.5" cy="72.5" r="3.6" fill="#ffff00" stroke="#229922" stroke-width="1.1"/>
<circle cx="71.5" cy="61.5" r="3.6" fill="#ffff00" stroke="#229922" stroke-width="1.1"/>
<circle cx="112.5" cy="339.5" r="3.6" fill="#ffff00" stroke="#229922" stroke-width="1.1"/>
<circle cx="153.5" cy="339.5" r="3.6" fill="#ffff00" stroke="#229922" stroke-width="1.1"/>
<circle cx="194.5" cy="339.5" r="3.6" fill="#ffff00" stroke="#229922" stroke-width="1.1"/>
<circle cx="236.5" cy="339.5" r="3.6" fill="#ffff00" stroke="#229922" stroke-width="1.1"/>
<circle cx="277.5" cy="339.5" r="3.6" fill="#ffff00" stroke="#229922" stroke-width="1.1"/>
<circle cx="318.5" cy="307.5" r="3.6" fill="#ffff00" stroke="#229922" stroke-width="1.1"/>
<circle cx="359.5" cy="307.5" r="3.6" fill="#ffff00" stroke="#229922" stroke-width="1.1"/>
<circle cx="400.5" cy="307.5" r="3.6" fill="#ffff00" stroke="#229922" stroke-width="1.1"/>
<circle cx="441.5" cy="307.5" r="3.6" fill="#ffff00" stroke="#229922" stroke-width="1.1"/>
<circle cx="482.5" cy="307.5" r="3.6" fill="#ffff00" stroke="#229922" stroke-width="1.1"/>
<circle cx="523.5" cy="307.5" r="3.6" fill="#ffff00" stroke="#229922" stroke-width="1.1"/>
<circle cx="564.5" cy="296.5" r="3.6" fill="#ffff00" stroke="#229922" stroke-width="1.1"/>
<circle cx="606.5" cy="296.5" r="3.6" fill="#ffff00" stroke="#229922" stroke-width="1.1"/>
<circle cx="647.5" cy="285.5" r="3.6" fill="#ffff00" stroke="#229922" stroke-width="1.1"/>
<circle cx="688.5" cy="275.5" r="3.6" fill="#ffff00" stroke="#229922" stroke-width="1.1"/>
<circle cx="729.5" cy="253.5" r="3.6" fill="#ffff00" stroke="#229922" stroke-width="1.1"/>
<circle cx="770.5" cy="253.5" r="3.6" fill="#ffff00" stroke="#229922" stroke-width="1.1"/>
<polyline points="30.5,307.5 71.5,264.5 112.5,221.5 153.5,189.5 194.5,179.5 236.5,168.5 277.5,147.5 318.5,328.5 359.5,328.5 400.5,328.5 441.5,328.5 482.5,317.5 523.5,317.5 564.5,307.5 606.5,307.5 647.5,296.5 688.5,285.5 729.5,264.5" stroke="#0099ff" stroke-width="3" fill="none" stroke-linejoin="round"/>
<circle cx="30.5" cy="307.5" r="3.6" fill="#ffff00" stroke="#0099ff" stroke-width="1.1"/>
<circle cx="71.5" cy="264.5" r="3.6" fill="#ffff00" stroke="#0099ff" stroke-width="1.1"/>
<circle cx="112.5" cy="221.5" r="3.6" fill="#ffff00" stroke="#0099ff" stroke-width="1.1"/>
<circle cx="153.5" cy="189.5" r="3.6" fill="#ffff00" stroke="#0099ff" stroke-width="1.1"/>
<circle cx="194.5" cy="179.5" r="3.6" fill="#ffff00" stroke="#0099ff" stroke-width="1.1"/>
<circle cx="236.5" cy="168.5" r="3.6" fill="#ffff00" stroke="#0099ff" stroke-width="1.1"/>
<circle cx="277.5" cy="147.5" r="3.6" fill="#ffff00" stroke="#0099ff" stroke-width="1.1"/>
<circle cx="318.5" cy="328.5" r="3.6" fill="#ffff00" stroke="#0099ff" stroke-width="1.1"/>
<circle cx="359.5" cy="328.5" r="3.6" fill="#ffff00" stroke="#0099ff" stroke-width="1.1"/>
<circle cx="400.5" cy="328.5" r="3.6" fill="#ffff00" stroke="#0099ff" stroke-width="1.1"/>
<circle cx="441.5" cy="328.5" r="3.6" fill="#ffff00" stroke="#0099ff" stroke-width="1.1"/>
<circle cx="482.5" cy="317.5" r="3.6" fill="#ffff00" stroke="#0099ff" stroke-width="1.1"/>
<circle cx="523.5" cy="317.5" r="3.6" fill="#ffff00" stroke="#0099ff" stroke-width="1.1"/>
<circle cx="564.5" cy="307.5" r="3.6" fill="#ffff00" stroke="#0099ff" stroke-width="1.1"/>
<circle cx="606.5" cy="307.5" r="3.6" fill="#ffff00" stroke="#0099ff" stroke-width="1.1"/>
<circle cx="647.5" cy="296.5" r="3.6" fill="#ffff00" stroke="#0099ff" stroke-width="1.1"/>
<circle cx="688.5" cy="285.5" r="3.6" fill="#ffff00" stroke="#0099ff" stroke-width="1.1"/>
<circle cx="729.5" cy="264.5" r="3.6" fill="#ffff00" stroke="#0099ff" stroke-width="1.1"/>
<polyline points="30.5,157.5 71.5,104.5 112.5,93.5 153.5,93.5 194.5,104.5 236.5,125.5 277.5,136.5 318.5,339.5 359.5,339.5 400.5,339.5 441.5,339.5 482.5,328.5 523.5,328.5 564.5,317.5 606.5,317.5 647.5,307.5 688.5,296.5 729.5,275.5" stroke="#dddd00" stroke-width="3" fill="none" stroke-linejoin="round"/>
<circle cx="30.5" cy="157.5" r="3.6" fill="#ffff00" stroke="#dddd00" stroke-width="1.1"/>
<circle cx="71.5" cy="104.5" r="3.6" fill="#ffff00" stroke="#dddd00" stroke-width="1.1"/>
<circle cx="112.5" cy="93.5" r="3.6" fill="#ffff00" stroke="#dddd00" stroke-width="1.1"/>
<circle cx="153.5" cy="93.5" r="3.6" fill="#ffff00" stroke="#dddd00" stroke-width="1.1"/>
<circle cx="194.5" cy="104.5" r="3.6" fill="#ffff00" stroke="#dddd00" stroke-width="1.1"/>
<circle cx="236.5" cy="125.5" r="3.6" fill="#ffff00" stroke="#dddd00" stroke-width="1.1"/>
<circle cx="277.5" cy="136.5" r="3.6" fill="#ffff00" stroke="#dddd00" stroke-width="1.1"/>
<circle cx="318.5" cy="339.5" r="3.6" fill="#ffff00" stroke="#dddd00" stroke-width="1.1"/>
<circle cx="359.5" cy="339.5" r="3.6" fill="#ffff00" stroke="#dddd00" stroke-width="1.1"/>
<circle cx="400.5" cy="339.5" r="3.6" fill="#ffff00" stroke="#dddd00" stroke-width="1.1"/>
<circle cx="441.5" cy="339.5" r="3.6" fill="#ffff00" stroke="#dddd00" stroke-width="1.1"/>
<circle cx="482.5" cy="328.5" r="3.6" fill="#ffff00" stroke="#dddd00" stroke-width="1.1"/>
<circle cx="523.5" cy="328.5" r="3.6" fill="#ffff00" stroke="#dddd00" stroke-width="1.1"/>
<circle cx="564.5" cy="317.5" r="3.6" fill="#ffff00" stroke="#dddd00" stroke-width="1.1"/>
<circle cx="606.5" cy="317.5" r="3.6" fill="#ffff00" stroke="#dddd00" stroke-width="1.1"/>
<circle cx="647.5" cy="307.5" r="3.6" fill="#ffff00" stroke="#dddd00" stroke-width="1.1"/>
<circle cx="688.5" cy="296.5" r="3.6" fill="#ffff00" stroke="#dddd00" stroke-width="1.1"/>
<circle cx="729.5" cy="275.5" r="3.6" fill="#ffff00" stroke="#dddd00" stroke-width="1.1"/>
<polyline points="30.5,296.5 71.5,349.5 112.5,307.5 153.5,307.5 194.5,317.5 236.5,317.5 277.5,296.5 318.5,275.5 359.5,264.5 400.5,264.5 441.5,285.5 482.5,275.5 523.5,275.5 564.5,264.5 606.5,264.5 647.5,253.5 688.5,232.5" stroke="#1400aa" stroke-width="3" fill="none" stroke-linejoin="round"/>
<circle cx="30.5" cy="296.5" r="3.6" fill="#ffff00" stroke="#1400aa" stroke-width="1.1"/>
<circle cx="71.5" cy="349.5" r="3.6" fill="#ffff00" stroke="#1400aa" stroke-width="1.1"/>
<circle cx="112.5" cy="307.5" r="3.6" fill="#ffff00" stroke="#1400aa" stroke-width="1.1"/>
<circle cx="153.5" cy="307.5" r="3.6" fill="#ffff00" stroke="#1400aa" stroke-width="1.1"/>
<circle cx="194.5" cy="317.5" r="3.6" fill="#ffff00" stroke="#1400aa" stroke-width="1.1"/>
<circle cx="236.5" cy="317.5" r="3.6" fill="#ffff00" stroke="#1400aa" stroke-width="1.1"/>
<circle cx="277.5" cy="296.5" r="3.6" fill="#ffff00" stroke="#1400aa" stroke-width="1.1"/>
<circle cx="318.5" cy="275.5" r="3.6" fill="#ffff00" stroke="#1400aa" stroke-width="1.1"/>
<circle cx="359.5" cy="264.5" r="3.6" fill="#ffff00" stroke="#1400aa" stroke-width="1.1"/>
<circle cx="400.5" cy="264.5" r="3.6" fill="#ffff00" stroke="#1400aa" stroke-width="1.1"/>
<circle cx="441.5" cy="285.5" r="3.6" fill="#ffff00" stroke="#1400aa" stroke-width="1.1"/>
<circle cx="482.5" cy="275.5" r="3.6" fill="#ffff00" stroke="#1400aa" stroke-width="1.1"/>
<circle cx="523.5" cy="275.5" r="3.6" fill="#ffff00" stroke="#1400aa" stroke-width="1.1"/>
<circle cx="564.5" cy="264.5" r="3.6" fill="#ffff00" stroke="#1400aa" stroke-width="1.1"/>
<circle cx="606.5" cy="264.5" r="3.6" fill="#ffff00" stroke="#1400aa" stroke-width="1.1"/>
<circle cx="647.5" cy="253.5" r="3.6" fill="#ffff00" stroke="#1400aa" stroke-width="1.1"/>
<circle cx="688.5" cy="232.5" r="3.6" fill="#ffff00" stroke="#1400aa" stroke-width="1.1"/>
<polyline points="30.5,125.5 71.5,179.5 112.5,168.5 153.5,179.5 194.5,168.5 236.5,179.5 277.5,168.5 318.5,136.5 359.5,136.5 400.5,157.5 441.5,157.5 482.5,157.5 523.5,157.5 564.5,157.5 606.5,168.5 647.5,179.5 688.5,307.5 729.5,285.5" stroke="#993399" stroke-width="3" fill="none" stroke-linejoin="round"/>
<circle cx="30.5" cy="125.5" r="3.6" fill="#ffff00" stroke="#993399" stroke-width="1.1"/>
<circle cx="71.5" cy="179.5" r="3.6" fill="#ffff00" stroke="#993399" stroke-width="1.1"/>
<circle cx="112.5" cy="168.5" r="3.6" fill="#ffff00" stroke="#993399" stroke-width="1.1"/>
<circle cx="153.5" cy="179.5" r="3.6" fill="#ffff00" stroke="#993399" stroke-width="1.1"/>
<circle cx="194.5" cy="168.5" r="3.6" fill="#ffff00" stroke="#993399" stroke-width="1.1"/>
<circle cx="236.5" cy="179.5" r="3.6" fill="#ffff00" stroke="#993399" stroke-width="1.1"/>
<circle cx="277.5" cy="168.5" r="3.6" fill="#ffff00" stroke="#993399" stroke-width="1.1"/>
<circle cx="318.5" cy="136.5" r="3.6" fill="#ffff00" stroke="#993399" stroke-width="1.1"/>
<circle cx="359.5" cy="136.5" r="3.6" fill="#ffff00" stroke="#993399" stroke-width="1.1"/>
<circle cx="400.5" cy="157.5" r="3.6" fill="#ffff00" stroke="#993399" stroke-width="1.1"/>
<circle cx="441.5" cy="157.5" r="3.6" fill="#ffff00" stroke="#993399" stroke-width="1.1"/>
<circle cx="482.5" cy="157.5" r="3.6" fill="#ffff00" stroke="#993399" stroke-width="1.1"/>
<circle cx="523.5" cy="157.5" r="3.6" fill="#ffff00" stroke="#993399" stroke-width="1.1"/>
<circle cx="564.5" cy="157.5" r="3.6" fill="#ffff00" stroke="#993399" stroke-width="1.1"/>
<circle cx="606.5" cy="168.5" r="3.6" fill="#ffff00" stroke="#993399" stroke-width="1.1"/>
<circle cx="647.5" cy="179.5" r="3.6" fill="#ffff00" stroke="#993399" stroke-width="1.1"/>
<circle cx="688.5" cy="307.5" r="3.6" fill="#ffff00" stroke="#993399" stroke-width="1.1"/>
<circle cx="729.5" cy="285.5" r="3.6" fill="#ffff00" stroke="#993399" stroke-width="1.1"/>
<polyline points="30.5,40.5 71.5,51.5 112.5,51.5 153.5,51.5 194.5,51.5 236.5,51.5 277.5,328.5 318.5,296.5 359.5,296.5 400.5,296.5 441.5,296.5 482.5,296.5 523.5,296.5 564.5,285.5 606.5,285.5 647.5,275.5 688.5,264.5" stroke="#999999" stroke-width="3" fill="none" stroke-linejoin="round"/>
<circle cx="30.5" cy="40.5" r="3.6" fill="#ffff00" stroke="#999999" stroke-width="1.1"/>
<circle cx="71.5" cy="51.5" r="3.6" fill="#ffff00" stroke="#999999" stroke-width="1.1"/>
<circle cx="112.5" cy="51.5" r="3.6" fill="#ffff00" stroke="#999999" stroke-width="1.1"/>
<circle cx="153.5" cy="51.5" r="3.6" fill="#ffff00" stroke="#999999" stroke-width="1.1"/>
<circle cx="194.5" cy="51.5" r="3.6" fill="#ffff00" stroke="#999999" stroke-width="1.1"/>
<circle cx="236.5" cy="51.5" r="3.6" fill="#ffff00" stroke="#999999" stroke-width="1.1"/>
<circle cx="277.5" cy="328.5" r="3.6" fill="#ffff00" stroke="#999999" stroke-width="1.1"/>
<circle cx="318.5" cy="296.5" r="3.6" fill="#ffff00" stroke="#999999" stroke-width="1.1"/>
<circle cx="359.5" cy="296.5" r="3.6" fill="#ffff00" stroke="#999999" stroke-width="1.1"/>
<circle cx="400.5" cy="296.5" r="3.6" fill="#ffff00" stroke="#999999" stroke-width="1.1"/>
<circle cx="441.5" cy="296.5" r="3.6" fill="#ffff00" stroke="#999999" stroke-width="1.1"/>
<circle cx="482.5" cy="296.5" r="3.6" fill="#ffff00" stroke="#999999" stroke-width="1.1"/>
<circle cx="523.5" cy="296.5" r="3.6" fill="#ffff00" stroke="#999999" stroke-width="1.1"/>
<circle cx="564.5" cy="285.5" r="3.6" fill="#ffff00" stroke="#999999" stroke-width="1.1"/>
<circle cx="606.5" cy="285.5" r="3.6" fill="#ffff00" stroke="#999999" stroke-width="1.1"/>
<circle cx="647.5" cy="275.5" r="3.6" fill="#ffff00" stroke="#999999" stroke-width="1.1"/>
<circle cx="688.5" cy="264.5" r="3.6" fill="#ffff00" stroke="#999999" stroke-width="1.1"/>
<polyline points="30.5,275.5 71.5,275.5 112.5,253.5 153.5,264.5 194.5,275.5 236.5,285.5 277.5,285.5 318.5,243.5 359.5,232.5 400.5,232.5 441.5,232.5 482.5,211.5 523.5,211.5 564.5,200.5 606.5,200.5" stroke="#333333" stroke-width="3" fill="none" stroke-linejoin="round"/>
<circle cx="30.5" cy="275.5" r="3.6" fill="#ffff00" stroke="#333333" stroke-width="1.1"/>
<circle cx="71.5" cy="275.5" r="3.6" fill="#ffff00" stroke="#333333" stroke-width="1.1"/>
<circle cx="112.5" cy="253.5" r="3.6" fill="#ffff00" stroke="#333333" stroke-width="1.1"/>
<circle cx="153.5" cy="264.5" r="3.6" fill="#ffff00" stroke="#333333" stroke-width="1.1"/>
<circle cx="194.5" cy="275.5" r="3.6" fill="#ffff00" stroke="#333333" stroke-width="1.1"/>
<circle cx="236.5" cy="285.5" r="3.6" fill="#ffff00" stroke="#333333" stroke-width="1.1"/>
<circle cx="277.5" cy="285.5" r="3.6" fill="#ffff00" stroke="#333333" stroke-width="1.1"/>
<circle cx="318.5" cy="243.5" r="3.6" fill="#ffff00" stroke="#333333" stroke-width="1.1"/>
<circle cx="359.5" cy="232.5" r="3.6" fill="#ffff00" stroke="#333333" stroke-width="1.1"/>
<circle cx="400.5" cy="232.5" r="3.6" fill="#ffff00" stroke="#333333" stroke-width="1.1"/>
<circle cx="441.5" cy="232.5" r="3.6" fill="#ffff00" stroke="#333333" stroke-width="1.1"/>
<circle cx="482.5" cy="211.5" r="3.6" fill="#ffff00" stroke="#333333" stroke-width="1.1"/>
<circle cx="523.5" cy="211.5" r="3.6" fill="#ffff00" stroke="#333333" stroke-width="1.1"/>
<circle cx="564.5" cy="200.5" r="3.6" fill="#ffff00" stroke="#333333" stroke-width="1.1"/>
<circle cx="606.5" cy="200.5" r="3.6" fill="#ffff00" stroke="#333333" stroke-width="1.1"/>
<polyline points="30.5,51.5 71.5,40.5 112.5,40.5 153.5,40.5 194.5,40.5 236.5,40.5 277.5,40.5 318.5,40.5 359.5,40.5 400.5,40.5 441.5,40.5 482.5,40.5 523.5,40.5" stroke="#33cccc" stroke-width="3" fill="none" stroke-linejoin="round"/>
<circle cx="30.5" cy="51.5" r="3.6" fill="#ffff00" stroke="#33cccc" stroke-width="1.1"/>
<circle cx="71.5" cy="40.5" r="3.6" fill="#ffff00" stroke="#33cccc" stroke-width="1.1"/>
<circle cx="112.5" cy="40.5" r="3.6" fill="#ffff00" stroke="#33cccc" stroke-width="1.1"/>
<circle cx="153.5" cy="40.5" r="3.6" fill="#ffff00" stroke="#33cccc" stroke-width="1.1"/>
<circle cx="194.5" cy="40.5" r="3.6" fill="#ffff00" stroke="#33cccc" stroke-width="1.1"/>
<circle cx="236.5" cy="40.5" r="3.6" fill="#ffff00" stroke="#33cccc" stroke-width="1.1"/>
<circle cx="277.5" cy="40.5" r="3.6" fill="#ffff00" stroke="#33cccc" stroke-width="1.1"/>
<circle cx="318.5" cy="40.5" r="3.6" fill="#ffff00" stroke="#33cccc" stroke-width="1.1"/>
<circle cx="359.5" cy="40.5" r="3.6" fill="#ffff00" stroke="#33cccc" stroke-width="1.1"/>
<circle cx="400.5" cy="40.5" r="3.6" fill="#ffff00" stroke="#33cccc" stroke-width="1.1"/>
<circle cx="441.5" cy="40.5" r="3.6" fill="#ffff00" stroke="#33cccc" stroke-width="1.1"/>
<circle cx="482.5" cy="40.5" r="3.6" fill="#ffff00" stroke="#33cccc" stroke-width="1.1"/>
<circle cx="523.5" cy="40.5" r="3.6" fill="#ffff00" stroke="#33cccc" stroke-width="1.1"/>
<polyline points="30.5,264.5 71.5,232.5 112.5,349.5 153.5,349.5 194.5,349.5 236.5,349.5 277.5,349.5 318.5,317.5 359.5,317.5 400.5,317.5 441.5,317.5" stroke="#a0cc60" stroke-width="3" fill="none" stroke-linejoin="round"/>
<circle cx="30.5" cy="264.5" r="3.6" fill="#ffff00" stroke="#a0cc60" stroke-width="1.1"/>
<circle cx="71.5" cy="232.5" r="3.6" fill="#ffff00" stroke="#a0cc60" stroke-width="1.1"/>
<circle cx="112.5" cy="349.5" r="3.6" fill="#ffff00" stroke="#a0cc60" stroke-width="1.1"/>
<circle cx="153.5" cy="349.5" r="3.6" fill="#ffff00" stroke="#a0cc60" stroke-width="1.1"/>
<circle cx="194.5" cy="349.5" r="3.6" fill="#ffff00" stroke="#a0cc60" stroke-width="1.1"/>
<circle cx="236.5" cy="349.5" r="3.6" fill="#ffff00" stroke="#a0cc60" stroke-width="1.1"/>
<circle cx="277.5" cy="349.5" r="3.6" fill="#ffff00" stroke="#a0cc60" stroke-width="1.1"/>
<circle cx="318.5" cy="317.5" r="3.6" fill="#ffff00" stroke="#a0cc60" stroke-width="1.1"/>
<circle cx="359.5" cy="317.5" r="3.6" fill="#ffff00" stroke="#a0cc60" stroke-width="1.1"/>
<circle cx="400.5" cy="317.5" r="3.6" fill="#ffff00" stroke="#a0cc60" stroke-width="1.1"/>
<circle cx="441.5" cy="317.5" r="3.6" fill="#ffff00" stroke="#a0cc60" stroke-width="1.1"/>
<polyline points="30.5,115.5 71.5,83.5 112.5,72.5 153.5,72.5 194.5,83.5 236.5,83.5 277.5,72.5" stroke="#808040" stroke-width="3" fill="none" stroke-linejoin="round"/>
<circle cx="30.5" cy="115.5" r="3.6" fill="#ffff00" stroke="#808040" stroke-width="1.1"/>
<circle cx="71.5" cy="83.5" r="3.6" fill="#ffff00" stroke="#808040" stroke-width="1.1"/>
<circle cx="112.5" cy="72.5" r="3.6" fill="#ffff00" stroke="#808040" stroke-width="1.1"/>
<circle cx="153.5" cy="72.5" r="3.6" fill="#ffff00" stroke="#808040" stroke-width="1.1"/>
<circle cx="194.5" cy="83.5" r="3.6" fill="#ffff00" stroke="#808040" stroke-width="1.1"/>
<circle cx="236.5" cy="83.5" r="3.6" fill="#ffff00" stroke="#808040" stroke-width="1.1"/>
<circle cx="277.5" cy="72.5" r="3.6" fill="#ffff00" stroke="#808040" stroke-width="1.1"/>
<text x="4.6" y="20.6" style="font-family:'Liberation Sans',Arial,sans-serif;font-size:16px" fill="#000">Position</text>
<text transform="translate(12.3,43.7) scale(0.93,1)" style="font-family:'Liberation Sans',Arial,sans-serif;font-size:10.0px" fill="#000">1</text>
<text transform="translate(777.3,43.7) scale(0.93,1)" style="font-family:'Liberation Sans',Arial,sans-serif;font-size:10.0px" fill="#000">1</text>
<text transform="translate(12.3,54.7) scale(0.93,1)" style="font-family:'Liberation Sans',Arial,sans-serif;font-size:10.0px" fill="#000">2</text>
<text transform="translate(777.3,54.7) scale(0.93,1)" style="font-family:'Liberation Sans',Arial,sans-serif;font-size:10.0px" fill="#000">2</text>
<text transform="translate(12.3,64.7) scale(0.93,1)" style="font-family:'Liberation Sans',Arial,sans-serif;font-size:10.0px" fill="#000">3</text>
<text transform="translate(777.3,64.7) scale(0.93,1)" style="font-family:'Liberation Sans',Arial,sans-serif;font-size:10.0px" fill="#000">3</text>
<text transform="translate(12.3,75.7) scale(0.93,1)" style="font-family:'Liberation Sans',Arial,sans-serif;font-size:10.0px" fill="#000">4</text>
<text transform="translate(777.3,75.7) scale(0.93,1)" style="font-family:'Liberation Sans',Arial,sans-serif;font-size:10.0px" fill="#000">4</text>
<text transform="translate(12.3,86.7) scale(0.93,1)" style="font-family:'Liberation Sans',Arial,sans-serif;font-size:10.0px" fill="#000">5</text>
<text transform="translate(777.3,86.7) scale(0.93,1)" style="font-family:'Liberation Sans',Arial,sans-serif;font-size:10.0px" fill="#000">5</text>
<text transform="translate(12.3,96.7) scale(0.93,1)" style="font-family:'Liberation Sans',Arial,sans-serif;font-size:10.0px" fill="#000">6</text>
<text transform="translate(777.3,96.7) scale(0.93,1)" style="font-family:'Liberation Sans',Arial,sans-serif;font-size:10.0px" fill="#000">6</text>
<text transform="translate(12.3,107.7) scale(0.93,1)" style="font-family:'Liberation Sans',Arial,sans-serif;font-size:10.0px" fill="#000">7</text>
<text transform="translate(777.3,107.7) scale(0.93,1)" style="font-family:'Liberation Sans',Arial,sans-serif;font-size:10.0px" fill="#000">7</text>
<text transform="translate(12.3,118.7) scale(0.93,1)" style="font-family:'Liberation Sans',Arial,sans-serif;font-size:10.0px" fill="#000">8</text>
<text transform="translate(777.3,118.7) scale(0.93,1)" style="font-family:'Liberation Sans',Arial,sans-serif;font-size:10.0px" fill="#000">8</text>
<text transform="translate(12.3,128.7) scale(0.93,1)" style="font-family:'Liberation Sans',Arial,sans-serif;font-size:10.0px" fill="#000">9</text>
<text transform="translate(777.3,128.7) scale(0.93,1)" style="font-family:'Liberation Sans',Arial,sans-serif;font-size:10.0px" fill="#000">9</text>
<text transform="translate(12.3,139.7) scale(0.93,1)" style="font-family:'Liberation Sans',Arial,sans-serif;font-size:10.0px" fill="#000">10</text>
<text transform="translate(777.3,139.7) scale(0.93,1)" style="font-family:'Liberation Sans',Arial,sans-serif;font-size:10.0px" fill="#000">10</text>
<text transform="translate(12.3,150.7) scale(0.93,1)" style="font-family:'Liberation Sans',Arial,sans-serif;font-size:10.0px" fill="#000">11</text>
<text transform="translate(777.3,150.7) scale(0.93,1)" style="font-family:'Liberation Sans',Arial,sans-serif;font-size:10.0px" fill="#000">11</text>
<text transform="translate(12.3,160.7) scale(0.93,1)" style="font-family:'Liberation Sans',Arial,sans-serif;font-size:10.0px" fill="#000">12</text>
<text transform="translate(777.3,160.7) scale(0.93,1)" style="font-family:'Liberation Sans',Arial,sans-serif;font-size:10.0px" fill="#000">12</text>
<text transform="translate(12.3,171.7) scale(0.93,1)" style="font-family:'Liberation Sans',Arial,sans-serif;font-size:10.0px" fill="#000">13</text>
<text transform="translate(777.3,171.7) scale(0.93,1)" style="font-family:'Liberation Sans',Arial,sans-serif;font-size:10.0px" fill="#000">13</text>
<text transform="translate(12.3,182.7) scale(0.93,1)" style="font-family:'Liberation Sans',Arial,sans-serif;font-size:10.0px" fill="#000">14</text>
<text transform="translate(777.3,182.7) scale(0.93,1)" style="font-family:'Liberation Sans',Arial,sans-serif;font-size:10.0px" fill="#000">14</text>
<text transform="translate(12.3,192.7) scale(0.93,1)" style="font-family:'Liberation Sans',Arial,sans-serif;font-size:10.0px" fill="#000">15</text>
<text transform="translate(777.3,192.7) scale(0.93,1)" style="font-family:'Liberation Sans',Arial,sans-serif;font-size:10.0px" fill="#000">15</text>
<text transform="translate(12.3,203.7) scale(0.93,1)" style="font-family:'Liberation Sans',Arial,sans-serif;font-size:10.0px" fill="#000">16</text>
<text transform="translate(777.3,203.7) scale(0.93,1)" style="font-family:'Liberation Sans',Arial,sans-serif;font-size:10.0px" fill="#000">16</text>
<text transform="translate(12.3,214.7) scale(0.93,1)" style="font-family:'Liberation Sans',Arial,sans-serif;font-size:10.0px" fill="#000">17</text>
<text transform="translate(777.3,214.7) scale(0.93,1)" style="font-family:'Liberation Sans',Arial,sans-serif;font-size:10.0px" fill="#000">17</text>
<text transform="translate(12.3,224.7) scale(0.93,1)" style="font-family:'Liberation Sans',Arial,sans-serif;font-size:10.0px" fill="#000">18</text>
<text transform="translate(777.3,224.7) scale(0.93,1)" style="font-family:'Liberation Sans',Arial,sans-serif;font-size:10.0px" fill="#000">18</text>
<text transform="translate(12.3,235.7) scale(0.93,1)" style="font-family:'Liberation Sans',Arial,sans-serif;font-size:10.0px" fill="#000">19</text>
<text transform="translate(777.3,235.7) scale(0.93,1)" style="font-family:'Liberation Sans',Arial,sans-serif;font-size:10.0px" fill="#000">19</text>
<text transform="translate(12.3,246.7) scale(0.93,1)" style="font-family:'Liberation Sans',Arial,sans-serif;font-size:10.0px" fill="#000">20</text>
<text transform="translate(777.3,246.7) scale(0.93,1)" style="font-family:'Liberation Sans',Arial,sans-serif;font-size:10.0px" fill="#000">20</text>
<text transform="translate(12.3,256.7) scale(0.93,1)" style="font-family:'Liberation Sans',Arial,sans-serif;font-size:10.0px" fill="#000">21</text>
<text transform="translate(777.3,256.7) scale(0.93,1)" style="font-family:'Liberation Sans',Arial,sans-serif;font-size:10.0px" fill="#000">21</text>
<text transform="translate(12.3,267.7) scale(0.93,1)" style="font-family:'Liberation Sans',Arial,sans-serif;font-size:10.0px" fill="#000">22</text>
<text transform="translate(777.3,267.7) scale(0.93,1)" style="font-family:'Liberation Sans',Arial,sans-serif;font-size:10.0px" fill="#000">22</text>
<text transform="translate(12.3,278.7) scale(0.93,1)" style="font-family:'Liberation Sans',Arial,sans-serif;font-size:10.0px" fill="#000">23</text>
<text transform="translate(777.3,278.7) scale(0.93,1)" style="font-family:'Liberation Sans',Arial,sans-serif;font-size:10.0px" fill="#000">23</text>
<text transform="translate(12.3,288.7) scale(0.93,1)" style="font-family:'Liberation Sans',Arial,sans-serif;font-size:10.0px" fill="#000">24</text>
<text transform="translate(777.3,288.7) scale(0.93,1)" style="font-family:'Liberation Sans',Arial,sans-serif;font-size:10.0px" fill="#000">24</text>
<text transform="translate(12.3,299.7) scale(0.93,1)" style="font-family:'Liberation Sans',Arial,sans-serif;font-size:10.0px" fill="#000">25</text>
<text transform="translate(777.3,299.7) scale(0.93,1)" style="font-family:'Liberation Sans',Arial,sans-serif;font-size:10.0px" fill="#000">25</text>
<text transform="translate(12.3,310.7) scale(0.93,1)" style="font-family:'Liberation Sans',Arial,sans-serif;font-size:10.0px" fill="#000">26</text>
<text transform="translate(777.3,310.7) scale(0.93,1)" style="font-family:'Liberation Sans',Arial,sans-serif;font-size:10.0px" fill="#000">26</text>
<text transform="translate(12.3,320.7) scale(0.93,1)" style="font-family:'Liberation Sans',Arial,sans-serif;font-size:10.0px" fill="#000">27</text>
<text transform="translate(777.3,320.7) scale(0.93,1)" style="font-family:'Liberation Sans',Arial,sans-serif;font-size:10.0px" fill="#000">27</text>
<text transform="translate(12.3,331.7) scale(0.93,1)" style="font-family:'Liberation Sans',Arial,sans-serif;font-size:10.0px" fill="#000">28</text>
<text transform="translate(777.3,331.7) scale(0.93,1)" style="font-family:'Liberation Sans',Arial,sans-serif;font-size:10.0px" fill="#000">28</text>
<text transform="translate(12.3,342.7) scale(0.93,1)" style="font-family:'Liberation Sans',Arial,sans-serif;font-size:10.0px" fill="#000">29</text>
<text transform="translate(777.3,342.7) scale(0.93,1)" style="font-family:'Liberation Sans',Arial,sans-serif;font-size:10.0px" fill="#000">29</text>
<text transform="translate(12.3,352.7) scale(0.93,1)" style="font-family:'Liberation Sans',Arial,sans-serif;font-size:10.0px" fill="#000">30</text>
<text transform="translate(777.3,352.7) scale(0.93,1)" style="font-family:'Liberation Sans',Arial,sans-serif;font-size:10.0px" fill="#000">30</text>
<text transform="translate(12.3,363.7) scale(0.93,1)" style="font-family:'Liberation Sans',Arial,sans-serif;font-size:10.0px" fill="#000">31</text>
<text transform="translate(777.3,363.7) scale(0.93,1)" style="font-family:'Liberation Sans',Arial,sans-serif;font-size:10.0px" fill="#000">31</text>
<text x="50.6" y="393" text-anchor="middle" style="font-family:'Liberation Sans',Arial,sans-serif;font-size:12px" fill="#000">1</text>
<text x="91.6" y="393" text-anchor="middle" style="font-family:'Liberation Sans',Arial,sans-serif;font-size:12px" fill="#000">2</text>
<text x="132.6" y="393" text-anchor="middle" style="font-family:'Liberation Sans',Arial,sans-serif;font-size:12px" fill="#000">3</text>
<text x="173.6" y="393" text-anchor="middle" style="font-family:'Liberation Sans',Arial,sans-serif;font-size:12px" fill="#000">4</text>
<text x="215.1" y="393" text-anchor="middle" style="font-family:'Liberation Sans',Arial,sans-serif;font-size:12px" fill="#000">5</text>
<text x="256.6" y="393" text-anchor="middle" style="font-family:'Liberation Sans',Arial,sans-serif;font-size:12px" fill="#000">6</text>
<text x="297.6" y="393" text-anchor="middle" style="font-family:'Liberation Sans',Arial,sans-serif;font-size:12px" fill="#000">7</text>
<text x="338.6" y="393" text-anchor="middle" style="font-family:'Liberation Sans',Arial,sans-serif;font-size:12px" fill="#000">8</text>
<text x="379.6" y="393" text-anchor="middle" style="font-family:'Liberation Sans',Arial,sans-serif;font-size:12px" fill="#000">9</text>
<text x="419.7" y="393" text-anchor="middle" style="font-family:'Liberation Sans',Arial,sans-serif;font-size:12px" fill="#000">10</text>
<text x="460.7" y="393" text-anchor="middle" style="font-family:'Liberation Sans',Arial,sans-serif;font-size:12px" fill="#000">11</text>
<text x="501.7" y="393" text-anchor="middle" style="font-family:'Liberation Sans',Arial,sans-serif;font-size:12px" fill="#000">12</text>
<text x="542.7" y="393" text-anchor="middle" style="font-family:'Liberation Sans',Arial,sans-serif;font-size:12px" fill="#000">13</text>
<text x="584.2" y="393" text-anchor="middle" style="font-family:'Liberation Sans',Arial,sans-serif;font-size:12px" fill="#000">14</text>
<text x="625.7" y="393" text-anchor="middle" style="font-family:'Liberation Sans',Arial,sans-serif;font-size:12px" fill="#000">15</text>
<text x="666.7" y="393" text-anchor="middle" style="font-family:'Liberation Sans',Arial,sans-serif;font-size:12px" fill="#000">16</text>
<text x="707.7" y="393" text-anchor="middle" style="font-family:'Liberation Sans',Arial,sans-serif;font-size:12px" fill="#000">17</text>
<text x="748.7" y="393" text-anchor="middle" style="font-family:'Liberation Sans',Arial,sans-serif;font-size:12px" fill="#000">18</text>
<text x="744" y="370" textLength="30.5" lengthAdjust="spacingAndGlyphs" style="font-family:'Liberation Sans',Arial,sans-serif;font-size:16px" fill="#000">Laps</text>
</svg>
</body></html>
